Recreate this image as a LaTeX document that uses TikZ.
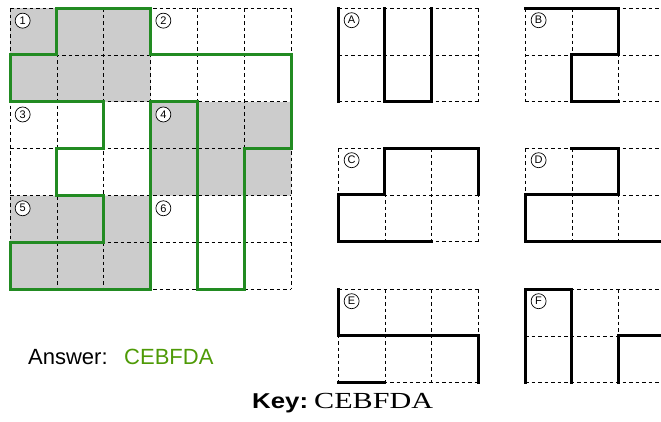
\documentclass[tikz,border=0pt]{standalone}
\usepackage{fontspec}
\setmainfont{Liberation Serif}
\setsansfont{Liberation Sans}
\definecolor{pathgreen}{RGB}{34,139,34}
\definecolor{answergreen}{RGB}{78,154,6}
\definecolor{piecegray}{RGB}{204,204,204}
\tikzset{
  gridline/.style={draw=black, line width=0.7pt, dash pattern=on 3.5pt off 3pt},
  outline/.style={draw=pathgreen, line width=3pt, line join=miter},
  edge/.style={draw=black, line width=3pt, line cap=rect, line join=miter},
  tag/.style={circle, draw, fill=white, line width=0.7pt, inner sep=0pt,
    minimum size=15pt, font=\sffamily\fontsize{11}{11}\selectfont},
  label text/.style={inner sep=0pt, anchor=base west},
  cellunits/.style={x=46.9pt, y=-46.9pt}
}
% dashed cell grid of #1 columns and #2 rows
\newcommand\dashgrid[2]{%
  \foreach \i in {0,...,#1} \draw[gridline] (\i,0) -- (\i,#2);
  \foreach \j in {0,...,#2} \draw[gridline] (0,\j) -- (#1,\j);
}
\begin{document}
\begin{tikzpicture}[x=1pt, y=-1pt]
\useasboundingbox (0,0) rectangle (661,421);
\clip (0,0) rectangle (661,421);

% the assembled board
\begin{scope}[shift={(10pt,-8pt)}, cellunits]
  \fill[piecegray] (0,0) rectangle (3,2) (3,2) rectangle (6,4) (0,4) rectangle (3,6);
  \dashgrid{6}{6}
  \draw[outline] (1,0) -- (3,0) -- (3,1) -- (6,1) -- (6,3) -- (5,3) -- (5,6)
    -- (4,6) -- (4,2) -- (3,2) -- (3,6) -- (0,6) -- (0,5) -- (2,5) -- (2,4)
    -- (1,4) -- (1,3) -- (2,3) -- (2,2) -- (0,2) -- (0,1) -- (1,1) -- cycle;
  \node[tag] (n1) at (0.27,0.27) {1};
  \node[tag] (n2) at (3.27,0.27) {2};
  \node[tag] (n3) at (0.27,2.27) {3};
  \node[tag] (n4) at (3.27,2.27) {4};
  \node[tag] (n5) at (0.27,4.27) {5};
  \node[tag] (n6) at (3.27,4.27) {6};
\end{scope}

% piece A
\begin{scope}[shift={(338pt,-8pt)}, cellunits]
  \dashgrid{3}{2}
  \draw[edge] (0,0) -- (0,2);
  \draw[edge] (1,0) -- (1,2) -- (2,2) -- (2,0);
  \node[tag] (pa) at (0.29,0.26) {A};
\end{scope}

% piece B
\begin{scope}[shift={(525pt,-8pt)}, cellunits]
  \dashgrid{3}{2}
  \draw[edge] (0,0) -- (2,0) -- (2,1) -- (1,1) -- (1,2) -- (2,2);
  \draw[edge] (3,0) -- (3,2);
  \node[tag] (pb) at (0.29,0.26) {B};
\end{scope}

% piece C
\begin{scope}[shift={(338pt,-148pt)}, cellunits]
  \dashgrid{3}{2}
  \draw[edge] (3,1) -- (3,0) -- (1,0) -- (1,1) -- (0,1) -- (0,2) -- (2,2);
  \node[tag] (pc) at (0.29,0.26) {C};
\end{scope}

% piece D
\begin{scope}[shift={(525pt,-148pt)}, cellunits]
  \dashgrid{3}{2}
  \draw[edge] (1,0) -- (2,0) -- (2,1) -- (0,1) -- (0,2) -- (3,2) -- (3,0);
  \node[tag] (pd) at (0.29,0.26) {D};
\end{scope}

% piece E
\begin{scope}[shift={(338pt,-289pt)}, cellunits]
  \dashgrid{3}{2}
  \draw[edge] (0,0) -- (0,1) -- (3,1) -- (3,2);
  \draw[edge] (0,2) -- (1,2);
  \node[tag] (pe) at (0.29,0.26) {E};
\end{scope}

% piece F
\begin{scope}[shift={(525pt,-289pt)}, cellunits]
  \dashgrid{3}{2}
  \draw[edge] (0,2) -- (0,0) -- (1,0) -- (1,2);
  \draw[edge] (3,0) -- (3,1) -- (2,1) -- (2,2);
  \node[tag] (pf) at (0.29,0.26) {F};
\end{scope}

% answer and key
\node[label text, font=\sffamily\fontsize{22}{22}\selectfont] (answer) at (28,364) {Answer:};
\node[label text, font=\sffamily\fontsize{22}{22}\selectfont, text=answergreen] (answerval) at (124,364) {CEBFDA};
\node[label text, font=\sffamily\bfseries\fontsize{21.5}{21.5}\selectfont] (key) at (252,408) {\scalebox{1.2}[1]{Key:}};
\node[label text, font=\rmfamily\fontsize{23}{23}\selectfont] (keyval) at (314,408) {\scalebox{1.31}[1]{CEBFDA}};
\end{tikzpicture}
\end{document}
